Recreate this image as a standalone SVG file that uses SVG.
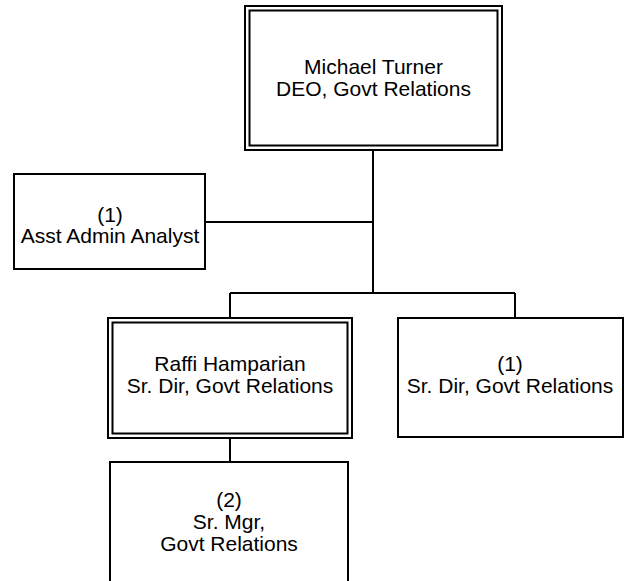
<svg xmlns="http://www.w3.org/2000/svg" width="625" height="581" viewBox="0 0 625 581">
<style>
.box{fill:#fff;stroke:#000;stroke-width:2}
.in{fill:none;stroke:#000;stroke-width:2}
.t{font-family:"Liberation Sans",Arial,sans-serif;font-size:21px;fill:#000;text-anchor:middle}
.c{fill:none;stroke:#000;stroke-width:2}
</style>
<rect width="625" height="581" fill="#fff"/>
<g id="connectors">
<path class="c" d="M373,150 V293 M205,222 H373 M230,293 H515 M230,293 V318 M515,293 V318 M230,438 V462"/>
</g>
<g id="n-turner">
<rect class="box" x="245" y="6" width="257" height="144"/>
<rect class="in" x="249.5" y="10.5" width="248" height="135"/>
<text class="t" x="373.5" y="73.5">Michael Turner</text>
<text class="t" x="373.5" y="95.5">DEO, Govt Relations</text>
</g>
<g id="n-analyst">
<rect class="box" x="14" y="174" width="191" height="95"/>
<text class="t" x="110" y="222">(1)</text>
<text class="t" x="110" y="243">Asst Admin Analyst</text>
</g>
<g id="n-raffi">
<rect class="box" x="108" y="318" width="244" height="120"/>
<rect class="in" x="112.5" y="322.5" width="235" height="111"/>
<text class="t" x="230" y="371">Raffi Hamparian</text>
<text class="t" x="230" y="393">Sr. Dir, Govt Relations</text>
</g>
<g id="n-srdir">
<rect class="box" x="398" y="318" width="225" height="119"/>
<text class="t" x="510" y="371">(1)</text>
<text class="t" x="510" y="393">Sr. Dir, Govt Relations</text>
</g>
<g id="n-srmgr">
<rect class="box" x="110" y="462" width="238" height="125"/>
<text class="t" x="229" y="507">(2)</text>
<text class="t" x="229" y="529">Sr. Mgr,</text>
<text class="t" x="229" y="551">Govt Relations</text>
</g>
</svg>
